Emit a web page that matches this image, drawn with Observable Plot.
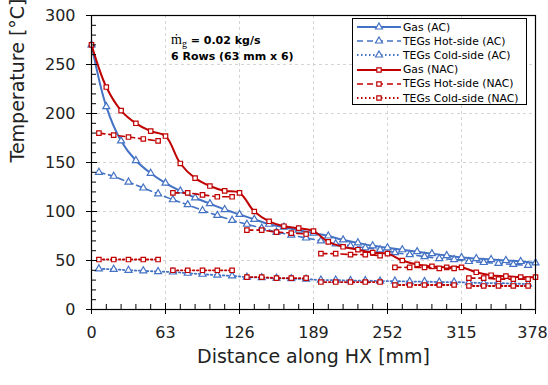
<!DOCTYPE html>
<html><head><meta charset="utf-8">
<script src="https://cdn.jsdelivr.net/npm/d3@7"></script>
<script src="https://cdn.jsdelivr.net/npm/@observablehq/plot@0.6"></script>
<style>
body{margin:0;background:#fff;}
#wrap{position:relative;width:548px;height:385px;font-family:"DejaVu Sans",Verdana,sans-serif;}
#note{position:absolute;left:171px;top:33px;font-weight:bold;font-size:11px;line-height:16px;color:#000;white-space:nowrap}
#note .m{font-family:"Liberation Serif","DejaVu Serif",serif;font-weight:normal;font-size:14px;line-height:0}
#note sub{font-size:10px;line-height:0;vertical-align:-3px}
#legend{position:absolute;left:352px;top:18px;width:175px;height:87px;border:1px solid #000;background:#fff;box-sizing:border-box;font-size:10.8px;padding-top:1px}
.row{display:flex;align-items:center;height:14.2px;white-space:nowrap}
.row svg{margin-left:3px;margin-right:1px;flex:none}
</style></head>
<body>
<div id="wrap"></div>
<script>
// distances along heat exchanger (mm)
const distGas = [0,12.6,25.2,37.8,50.4,63,75.6,88.2,100.8,113.4,126,138.6,151.2,163.8,176.4,189,201.6,214.2,226.8,239.4,252,264.6,277.2,289.8,302.4,315,327.6,340.2,352.8,365.4,378];
const distTEG = [6.3,18.9,31.5,44.1,56.7,69.3,81.9,94.5,107.1,119.7,132.3,144.9,157.5,170.1,182.7,195.3,207.9,220.5,233.1,245.7,258.3,270.9,283.5,296.1,308.7,321.3,333.9,346.5,359.1,371.7];
const rowTEG = [1,1,1,1,1,2,2,2,2,2,3,3,3,3,3,4,4,4,4,4,5,5,5,5,5,6,6,6,6,6];

// temperatures (°C)
const gasAC  = [270,207,172,152,139,129,121,114,108,102,97,92,87,84,81,78,75,71,68,65,63,61,59,57,55,53,52,51,50,49,47.5];
const hotAC  = [140,136,130,124,118,112,107,101,96,91,87,83,79,76,73,70,67,65,63,61,58,56,54,52,51,49,48,47,46,45];
const coldAC = [41.5,41,40,39.5,38.7,38.3,37,36,35,34.3,33,32.5,32,31.5,31,30,30,29.5,29.5,29,29,28.5,28.5,28,28,27.5,27,27,26.5,26];
const gasNAC = [270,227,203,190,182,177,149,134,126,121,119,100,90,85,83,80,69,64,61,58,57,50,46,44,43,43,38,35,34,33,33];
const hotNAC = [180,178,176,174,172,119,119,117,115,115,81,81,79,78,77,57,57,56,56,55,43,43,43,42,42,32,32,31,31,31];
const coldNAC= [51,51,51,51,51,40,40,40,40,40,33,33,32,32,32,28,28,28,28,28,25,25,25,25,25,24,24,24,24,24];

const xMajor = [0,63,126,189,252,315,378];
const xMinor = [12.6,25.2,37.8,50.4,75.6,88.2,100.8,113.4,138.6,151.2,163.8,176.4,201.6,214.2,226.8,239.4,264.6,277.2,289.8,302.4,327.6,340.2,352.8,365.4];
const yMajor = [0,50,100,150,200,250,300];
const yMinor = [10,20,30,40,60,70,80,90,110,120,130,140,160,170,180,190,210,220,230,240,260,270,280,290];

const seriesNames = ["Gas (AC)","TEGs Hot-side (AC)","TEGs Cold-side (AC)","Gas (NAC)","TEGs Hot-side (NAC)","TEGs Cold-side (NAC)"];
const xLabel = "Distance along HX [mm]";
const yLabel = "Temperature [°C]";

const BLUE = "#4472C4", RED = "#C00000";
const gasTbl = (vals) => distGas.map((x,i)=>({x, t: vals[i]}));
const tegTbl = (vals) => distTEG.map((x,i)=>({x, t: vals[i], row: rowTEG[i]}));

const styles = [
  {data: gasTbl(gasAC), color: BLUE, sym: "triangle", dash: null, w: 2, curve: "catmull-rom", z: null},
  {data: tegTbl(hotAC), color: BLUE, sym: "triangle", dash: "6,4", w: 1.6, curve: "linear", z: null},
  {data: tegTbl(coldAC), color: BLUE, sym: "triangle", dash: "1.5,2.5", w: 1.8, curve: "linear", z: null},
  {data: gasTbl(gasNAC), color: RED, sym: "square", dash: null, w: 2, curve: "catmull-rom", z: null},
  {data: tegTbl(hotNAC), color: RED, sym: "square", dash: "6,4", w: 1.6, curve: "linear", z: "row"},
  {data: tegTbl(coldNAC), color: RED, sym: "square", dash: "1.5,2.5", w: 1.8, curve: "linear", z: "row"}
];

const seriesMarks = styles.flatMap(s => [
  Plot.line(s.data, {x: "x", y: "t", z: s.z, stroke: s.color, strokeWidth: s.w, strokeDasharray: s.dash, curve: s.curve}),
  Plot.dot(s.data, {x: "x", y: "t", symbol: s.sym, r: s.sym === "triangle" ? 2.6 : 2.5, stroke: s.color, strokeWidth: 1.2, fill: "white"})
]);

const grid = {stroke: "#d4d4d4", strokeOpacity: 1, strokeDasharray: "3,3", strokeWidth: 1};

const chart = Plot.plot({
  width: 548, height: 385,
  marginLeft: 91, marginRight: 13, marginTop: 15, marginBottom: 76,
  style: {fontFamily: "'DejaVu Sans', Verdana, sans-serif", fontSize: "16px", background: "white", color: "#222", overflow: "visible"},
  x: {domain: [0, 378]},
  y: {domain: [0, 300]},
  marks: [
    Plot.gridX(xMajor, grid),
    Plot.gridY(yMajor, grid),
    ...seriesMarks,
    Plot.frame({stroke: "#000", strokeWidth: 1.2}),
    Plot.axisX({ticks: xMajor.slice(0, -1), tickSize: 0, tickPadding: 17, fontSize: 16, label: null, tickFormat: d => String(d)}),
    Plot.axisX({ticks: xMajor.slice(-1), tickSize: 0, tickPadding: 17, fontSize: 16, label: null, dx: -3, tickFormat: d => String(d)}),
    Plot.axisX({ticks: xMajor, tickSize: 11, dy: -6, text: null, label: null, stroke: "#000"}),
    Plot.axisX({ticks: xMinor, tickSize: 5, dy: -5, text: null, label: null, stroke: "#000"}),
    Plot.axisY({ticks: yMajor, tickSize: 0, tickPadding: 16, fontSize: 16, label: null, tickFormat: d => String(d)}),
    Plot.axisY({ticks: yMajor, tickSize: 11, dx: 6, text: null, label: null, stroke: "#000"}),
    Plot.axisY({ticks: yMinor, tickSize: 5, dx: 5, text: null, label: null, stroke: "#000"}),
    Plot.text([xLabel], {text: d => d, frameAnchor: "bottom", dy: 53, fontSize: 19, fill: "#222"}),
    Plot.text([yLabel], {text: d => d, frameAnchor: "left", dx: -74, rotate: -90, fontSize: 19, fill: "#222"})
  ]
});

const wrap = document.getElementById("wrap");
wrap.appendChild(chart);

// annotation
const note = document.createElement("div");
note.id = "note";
note.innerHTML = '<span class="m">ṁ<sub>g</sub></span> = 0.02 kg/s<br>6 Rows (63 mm x 6)';
wrap.appendChild(note);

// legend
const legend = document.createElement("div");
legend.id = "legend";
styles.forEach((s, i) => {
  const row = document.createElement("div");
  row.className = "row";
  const ns = "http://www.w3.org/2000/svg";
  const svg = document.createElementNS(ns, "svg");
  svg.setAttribute("width", 46); svg.setAttribute("height", 12);
  const line = document.createElementNS(ns, "line");
  line.setAttribute("x1", 1); line.setAttribute("x2", 45); line.setAttribute("y1", 6); line.setAttribute("y2", 6);
  line.setAttribute("stroke", s.color); line.setAttribute("stroke-width", s.w);
  if (s.dash) line.setAttribute("stroke-dasharray", s.dash);
  svg.appendChild(line);
  const mk = document.createElementNS(ns, "path");
  mk.setAttribute("d", s.sym === "triangle"
    ? d3.symbol(d3.symbolTriangle, Math.PI * 2.6 * 2.6)()
    : d3.symbol(d3.symbolSquare, Math.PI * 2.5 * 2.5)());
  mk.setAttribute("transform", "translate(23,6)");
  mk.setAttribute("fill", "white"); mk.setAttribute("stroke", s.color); mk.setAttribute("stroke-width", 1.2);
  svg.appendChild(mk);
  row.appendChild(svg);
  const span = document.createElement("span");
  span.textContent = seriesNames[i];
  row.appendChild(span);
  legend.appendChild(row);
});
wrap.appendChild(legend);
</script>
</body></html>
